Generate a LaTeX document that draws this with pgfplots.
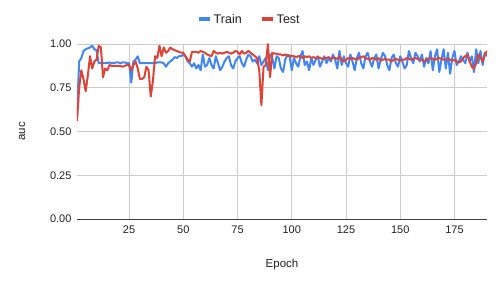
\documentclass[border=0pt]{standalone}
\usepackage{pgfplots}
\pgfplotsset{compat=1.18}
\usepackage{pgfplotstable}
\usepackage{fontspec}
\setmainfont{Liberation Sans}
\definecolor{gblue}{HTML}{4285F4}
\definecolor{gred}{HTML}{DB4437}
\definecolor{ggrid}{HTML}{CCCCCC}
\definecolor{gtext}{HTML}{222222}

\pgfplotstableread{
x train test
1 0.60 0.56
2 0.90 0.75
3 0.92 0.85
4 0.96 0.80
5 0.97 0.73
6 0.975 0.82
7 0.98 0.93
8 0.99 0.86
9 0.97 0.90
10 0.965 0.91
11 0.89 0.99
12 0.89 0.98
13 0.89 0.81
14 0.89 0.86
15 0.89 0.85
16 0.895 0.88
17 0.89 0.875
18 0.89 0.875
19 0.895 0.875
20 0.895 0.875
21 0.89 0.875
22 0.895 0.87
23 0.895 0.875
24 0.89 0.88
25 0.89 0.88
26 0.78 0.85
27 0.90 0.88
28 0.91 0.90
29 0.93 0.86
30 0.89 0.80
31 0.89 0.80
32 0.89 0.81
33 0.89 0.87
34 0.89 0.85
35 0.89 0.70
36 0.89 0.79
37 0.89 0.93
38 0.895 0.92
39 0.895 0.99
40 0.895 0.93
41 0.89 0.98
42 0.87 0.95
43 0.89 0.96
44 0.90 0.98
45 0.91 0.97
46 0.925 0.965
47 0.92 0.96
48 0.93 0.955
49 0.93 0.95
50 0.94 0.95
51 0.93 0.93
52 0.90 0.91
53 0.89 0.90
54 0.87 0.955
55 0.89 0.955
56 0.86 0.955
57 0.88 0.95
58 0.85 0.96
59 0.94 0.955
60 0.87 0.95
61 0.88 0.94
62 0.92 0.935
63 0.88 0.93
64 0.86 0.96
65 0.93 0.95
66 0.89 0.945
67 0.85 0.95
68 0.87 0.945
69 0.90 0.95
70 0.92 0.955
71 0.93 0.95
72 0.88 0.945
73 0.86 0.95
74 0.90 0.96
75 0.92 0.955
76 0.93 0.94
77 0.89 0.96
78 0.87 0.945
79 0.91 0.95
80 0.94 0.96
81 0.93 0.95
82 0.90 0.94
83 0.91 0.93
84 0.89 0.92
85 0.93 0.85
86 0.88 0.65
87 0.90 0.87
88 0.92 0.88
89 0.85 1.00
90 0.94 0.81
91 0.92 0.95
92 0.86 0.945
93 0.93 0.945
94 0.92 0.94
95 0.86 0.94
96 0.84 0.935
97 0.91 0.94
98 0.94 0.93
99 0.93 0.935
100 0.85 0.93
101 0.92 0.93
102 0.89 0.925
103 0.87 0.93
104 0.93 0.93
105 0.96 0.92
106 0.88 0.93
107 0.90 0.925
108 0.85 0.93
109 0.92 0.92
110 0.88 0.925
111 0.91 0.92
112 0.93 0.925
113 0.87 0.92
114 0.90 0.915
115 0.93 0.92
116 0.89 0.92
117 0.92 0.925
118 0.90 0.915
119 0.94 0.92
120 0.91 0.92
121 0.86 0.915
122 0.96 0.93
123 0.88 0.91
124 0.93 0.90
125 0.89 0.91
126 0.87 0.92
127 0.94 0.915
128 0.90 0.92
129 0.85 0.915
130 0.92 0.91
131 0.95 0.92
132 0.89 0.925
133 0.86 0.93
134 0.93 0.92
135 0.95 0.915
136 0.90 0.91
137 0.87 0.92
138 0.92 0.915
139 0.94 0.91
140 0.86 0.92
141 0.91 0.905
142 0.95 0.91
143 0.93 0.915
144 0.88 0.91
145 0.85 0.91
146 0.92 0.90
147 0.94 0.91
148 0.89 0.915
149 0.87 0.91
150 0.93 0.905
151 0.90 0.91
152 0.86 0.91
153 0.88 0.92
154 0.96 0.915
155 0.92 0.91
156 0.89 0.915
157 0.95 0.92
158 0.93 0.915
159 0.90 0.91
160 0.94 0.91
161 0.87 0.90
162 0.92 0.91
163 0.89 0.915
164 0.96 0.92
165 0.85 0.915
166 0.93 0.91
167 0.97 0.915
168 0.84 0.92
169 0.91 0.915
170 0.97 0.91
171 0.86 0.91
172 0.95 0.915
173 0.83 0.91
174 0.92 0.905
175 0.96 0.91
176 0.88 0.90
177 0.90 0.895
178 0.93 0.90
179 0.91 0.92
180 0.89 0.93
181 0.95 0.94
182 0.90 0.90
183 0.93 0.87
184 0.84 0.86
185 0.97 0.89
186 0.89 0.94
187 0.96 0.92
188 0.88 0.90
189 0.95 0.94
190 0.93 0.96
}\datatable

\begin{document}
\begin{tikzpicture}[x=1pt,y=1pt]
\path[use as bounding box] (-77pt,-67pt) rectangle (425pt,219pt);
\begin{axis}[
  at={(0,0)}, anchor=south west,
  scale only axis, width=410pt, height=175pt,
  xmin=1, xmax=190, ymin=0, ymax=1,
  xtick={25,50,75,100,125,150,175},
  ytick={0,0.25,0.5,0.75,1},
  yticklabel style={/pgf/number format/fixed, /pgf/number format/fixed zerofill, /pgf/number format/precision=2},
  /pgf/number format/assume math mode=true,
  ticklabel style={font=\fontsize{11}{13}\selectfont, text=gtext},
  xticklabel style={yshift=-3pt},
  yticklabel style={xshift=-2pt},
  major tick length=0pt,
  axis line style={draw=none},
  grid=major,
  major grid style={ggrid, line width=0.8pt},
  extra y ticks={0},
  extra y tick labels={},
  extra y tick style={grid=major, major grid style={black!75, line width=1pt}},
  xlabel={Epoch}, ylabel={auc},
  label style={font=\fontsize{11.5}{13}\selectfont, text=gtext},
  xlabel style={yshift=-19pt},
  ylabel style={yshift=18pt},
  legend style={at={(0.42,1.14)}, anchor=center, draw=none, fill=none,
    legend columns=2, font=\fontsize{12.5}{14}\selectfont, text=gtext,
    /tikz/every even column/.append style={column sep=16pt}},
  legend image code/.code={\draw[#1, line width=4pt] (0pt,0pt) -- (11pt,0pt);},
]
\addplot[gblue, line width=2pt, line join=round] table[x=x, y=train] {\datatable};
\addlegendentry{Train}
\addplot[gred, line width=2pt, line join=round] table[x=x, y=test] {\datatable};
\addlegendentry{Test}
\end{axis}
\end{tikzpicture}
\end{document}
